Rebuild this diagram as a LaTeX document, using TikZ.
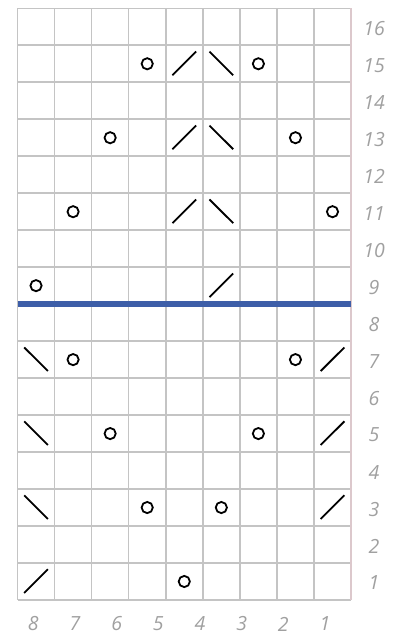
\documentclass[tikz,border=0pt]{standalone}
\usepackage{fontspec}
\setmainfont{Open Sans}
\definecolor{gridgray}{HTML}{C4C4C4}
\definecolor{edgepink}{HTML}{DCC8CC}
\definecolor{labgray}{HTML}{A0A0A0}
\definecolor{rowblue}{HTML}{3D5EA8}
\tikzset{
  gridline/.style={draw=gridgray,line width=1.6pt},
  sym/.style={draw=black,line width=1.8pt,line cap=butt},
  lab/.style={text=labgray,font=\fontsize{19.5}{19.5}\selectfont\itshape,inner sep=0pt},
}
\begin{document}
\begin{tikzpicture}[x=1pt,y=-1pt]
\useasboundingbox (0,0) rectangle (398,637);
\fill[white] (0,0) rectangle (398,637);
\begin{scope}[shift={(17.5,8.3)},x=37.06pt,y=-36.98pt]
  % grid
  \foreach \i in {0,...,8}{\draw[gridline] (\i,0) -- (\i,16);}
  \foreach \j in {0,...,16}{\draw[gridline] (0,\j) -- (9,\j);}
  \draw[gridline,draw=edgepink] (9,0) -- (9,16);
  % blue line under row 9
  \draw[draw=rowblue,line width=5.5pt] (0,8) -- (9,8);
  % symbols: / slash
  \foreach \c/\r in {4/15,4/13,4/11,5/9,8/7,8/5,8/3,0/1}{
    \draw[sym] (\c+0.18,17-\r-0.19) -- (\c+0.82,16-\r+0.17);
  }
  % \ backslash
  \foreach \c/\r in {5/15,5/13,5/11,0/7,0/5,0/3}{
    \draw[sym] (\c+0.18,16-\r+0.17) -- (\c+0.82,17-\r-0.19);
  }
  % circles
  \foreach \c/\r in {3/15,6/15,2/13,7/13,1/11,8/11,0/9,1/7,7/7,2/5,6/5,3/3,5/3,4/1}{
    \draw[draw=black,line width=1.8pt] (\c+0.5,16.5-\r) circle[radius=5.6pt];
  }
\end{scope}
% row labels
\foreach \r in {1,...,16}{
  \node[lab] (r\r) at (374,{8.3+36.98*(16.5-\r)+1.5}) {\r};
}
% column labels
\foreach \i in {1,...,8}{
  \node[lab] (c\i) at ({33.3+41.67*(8-\i)},624) {\i};
}
\end{tikzpicture}
\end{document}
